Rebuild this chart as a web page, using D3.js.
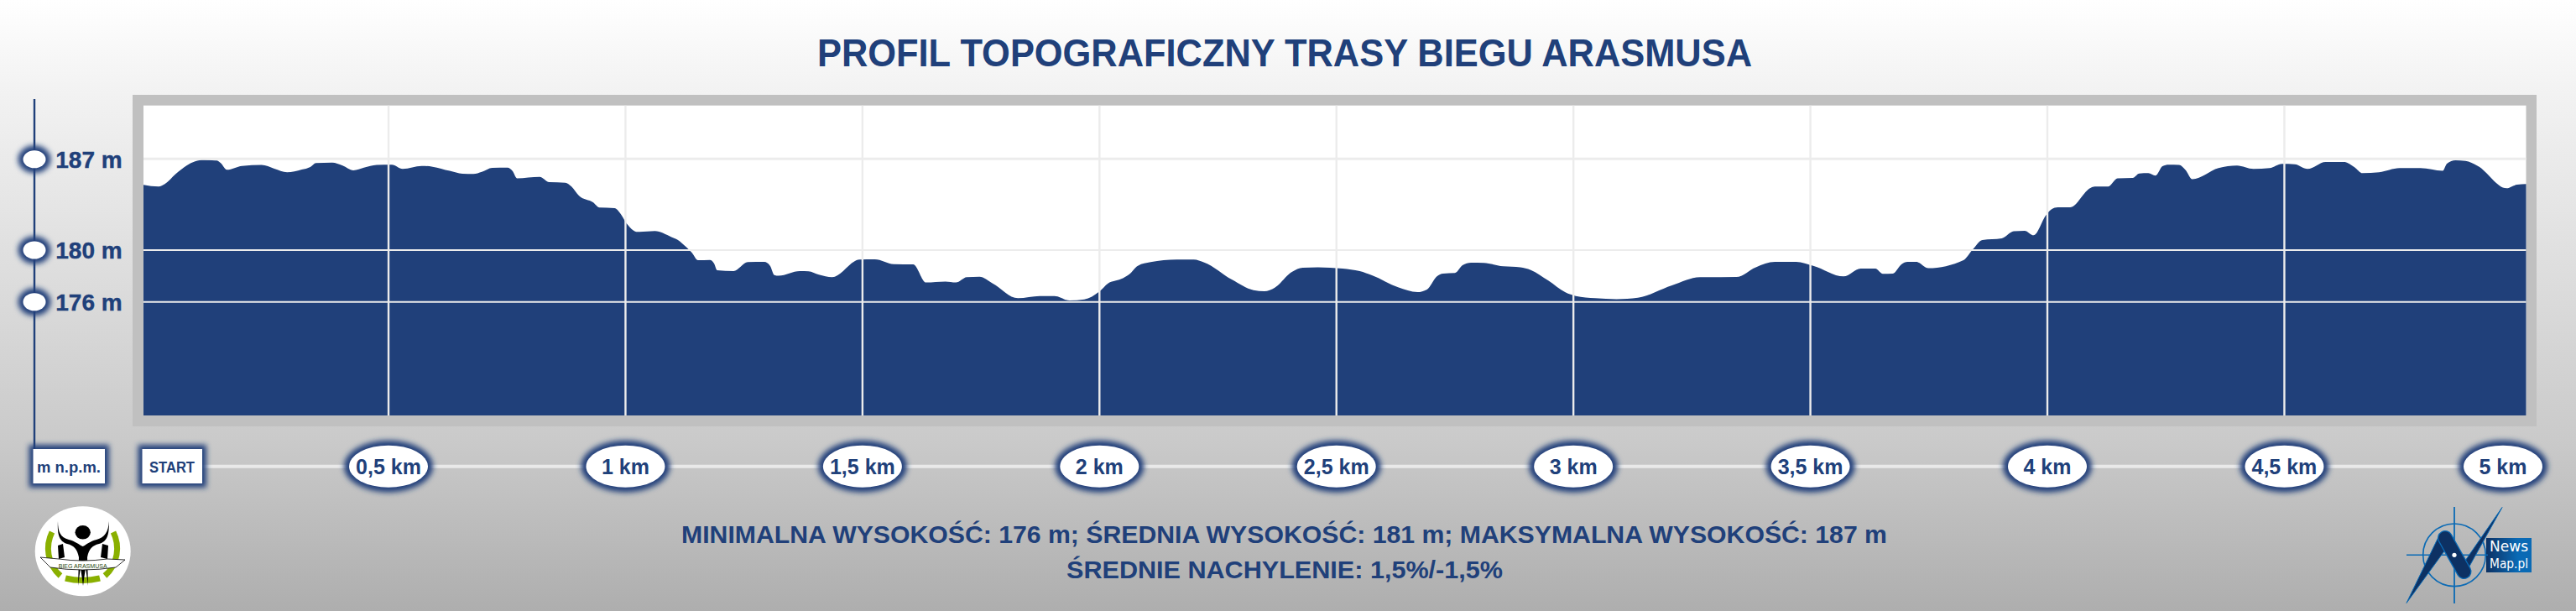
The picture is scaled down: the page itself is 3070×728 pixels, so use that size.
<!DOCTYPE html>
<html>
<head>
<meta charset="utf-8">
<title>Profil topograficzny</title>
<script src="https://cdn.jsdelivr.net/npm/d3@7"></script>
<style>
    html, body { margin: 0; padding: 0; background: #fff; }
    svg { display: block; }
    text { font-family: "Liberation Sans", Arial, sans-serif; font-weight: bold; fill: #20407a; }
</style>
</head>
<body>
<svg id="chart" width="3070" height="728"></svg>
<script>
const titleText = "PROFIL TOPOGRAFICZNY TRASY BIEGU ARASMUSA";
const summaryLines = [
    "MINIMALNA WYSOKOŚĆ: 176 m; ŚREDNIA WYSOKOŚĆ: 181 m; MAKSYMALNA WYSOKOŚĆ: 187 m",
    "ŚREDNIE NACHYLENIE: 1,5%/-1,5%"
];

const kmTicks = [0.5, 1, 1.5, 2, 2.5, 3, 3.5, 4, 4.5, 5];
const kmLabels = ["0,5 km", "1 km", "1,5 km", "2 km", "2,5 km", "3 km", "3,5 km", "4 km", "4,5 km", "5 km"];
const elevationTicks = [187, 180, 176];

const distanceKm = [
    -0.017, 0.015, 0.028, 0.051, 0.074, 0.092, 0.110, 0.137, 0.146, 0.159,
    0.191, 0.232, 0.259, 0.286, 0.317, 0.335, 0.347, 0.381, 0.403, 0.426,
    0.448, 0.475, 0.507, 0.530, 0.570, 0.593, 0.629, 0.656, 0.679, 0.697,
    0.719, 0.751, 0.762, 0.771, 0.819, 0.839, 0.873, 0.886, 0.902, 0.932,
    0.945, 0.977, 0.990, 0.999, 1.026, 1.062, 1.097,
    1.110, 1.128, 1.140, 1.153, 1.178, 1.187, 1.193, 1.228, 1.258, 1.293,
    1.305, 1.314, 1.323, 1.368, 1.386, 1.408, 1.436, 1.494, 1.526, 1.566,
    1.607, 1.634, 1.675, 1.697, 1.720, 1.747, 1.774, 1.828, 1.874, 1.905,
    1.937, 1.968, 2.000, 2.018, 2.045, 2.063, 2.081, 2.108, 2.163, 2.199,
    2.221, 2.280, 2.325, 2.348, 2.370, 2.406, 2.429, 2.461, 2.513,
    2.549, 2.576, 2.630, 2.671, 2.691, 2.712, 2.725, 2.750, 2.766, 2.784,
    2.811, 2.852, 2.888, 2.910, 2.947, 2.983, 3.005, 3.046, 3.091, 3.136,
    3.208, 3.267, 3.344, 3.385, 3.425, 3.470, 3.506, 3.570, 3.606, 3.637,
    3.653, 3.674, 3.692, 3.705, 3.723, 3.749, 3.823, 3.841, 3.863, 3.904, 3.929,
    3.952, 3.971, 3.997, 4.009, 4.022, 4.048, 4.091, 4.100, 4.128, 4.148,
    4.180, 4.194, 4.213, 4.228, 4.243, 4.256, 4.278, 4.291, 4.306, 4.361,
    4.400, 4.435, 4.469, 4.495, 4.522, 4.549, 4.587, 4.626, 4.648, 4.665,
    4.700, 4.743, 4.787, 4.834, 4.843, 4.861, 4.882, 4.908, 4.969, 4.991, 5.010
];

const elevationM = [
    185.03, 184.90, 185.09, 185.87, 186.52, 186.84, 186.95, 186.90, 186.71, 186.19,
    186.49, 186.56, 186.28, 186.00, 186.21, 186.41, 186.71, 186.75, 186.52, 186.15,
    186.36, 186.56, 186.58, 186.26, 186.49, 186.43, 186.11, 185.89, 185.87, 186.04,
    186.34, 186.36, 186.08, 185.54, 185.65, 185.24, 185.20, 184.90, 184.19, 183.67,
    183.28, 183.24, 182.78, 182.24, 181.40, 181.47, 181.01,
    180.80, 180.24, 179.81, 179.22, 179.24, 178.96, 178.45, 178.38, 179.07, 179.09,
    178.79, 178.08, 178.02, 178.38, 178.36, 178.10, 177.91, 179.27, 179.29, 178.92,
    178.90, 177.50, 177.58, 177.50, 177.91, 177.95, 177.45, 176.29, 176.46, 176.46,
    176.12, 176.20, 176.81, 177.43, 177.76, 178.14, 178.79, 179.07, 179.27, 179.27,
    179.05, 177.71, 176.91, 176.83, 177.11, 178.32, 178.64, 178.68, 178.58,
    178.38, 178.04, 177.13, 176.76, 176.96, 177.97, 178.19, 178.23, 178.83, 179.03,
    179.01, 178.75, 178.68, 178.47, 177.65, 176.74, 176.46, 176.29, 176.22, 176.33,
    177.28, 177.91, 177.93, 178.68, 179.09, 179.09, 178.79, 177.97, 178.58, 178.58,
    178.17, 178.19, 178.90, 179.09, 179.09, 178.60, 179.22, 179.98, 180.78, 180.91, 181.45,
    181.49, 181.14, 182.68, 183.15, 183.30, 183.30, 184.79, 184.90, 184.90, 185.54,
    185.57, 185.91, 185.93, 185.74, 186.47, 186.58, 186.56, 186.19, 185.46, 186.32,
    186.52, 186.26, 186.32, 186.65, 186.62, 186.26, 186.80, 186.80, 186.39, 185.93,
    186.00, 186.32, 186.32, 186.11, 186.67, 186.93, 186.88, 186.49, 184.77, 185.05, 185.09
];

const navy = "#20407a";
const plot = { left: 171, right: 3010.5, top: 125.7, bottom: 495 };

const svg = d3.select("#chart");
const defs = svg.append("defs");

const bg = defs.append("linearGradient").attr("id", "bg")
    .attr("x1", 0).attr("y1", 0).attr("x2", 0).attr("y2", 1);
bg.append("stop").attr("offset", 0).attr("stop-color", "#ffffff");
bg.append("stop").attr("offset", 0.14).attr("stop-color", "#f3f3f3");
bg.append("stop").attr("offset", 0.72).attr("stop-color", "#cacaca");
bg.append("stop").attr("offset", 1).attr("stop-color", "#aeaeae");

const nmBox = defs.append("linearGradient").attr("id", "nmBox");
nmBox.append("stop").attr("offset", 0).attr("stop-color", "#0d3163");
nmBox.append("stop").attr("offset", 0.7).attr("stop-color", "#0a6ab5");

defs.append("filter").attr("id", "glow")
    .attr("x", "-40%").attr("y", "-50%").attr("width", "180%").attr("height", "200%")
    .append("feGaussianBlur").attr("stdDeviation", 3);

svg.append("rect").attr("width", 3070).attr("height", 728).attr("fill", "url(#bg)");

svg.append("text")
    .attr("x", 1531).attr("y", 79)
    .attr("text-anchor", "middle")
    .attr("textLength", 1114).attr("lengthAdjust", "spacingAndGlyphs")
    .style("font-size", "47px")
    .text(titleText);

// frame and plot
svg.append("rect").attr("x", 158).attr("y", 113).attr("width", 2865).attr("height", 395).attr("fill", "#c0c0c0");
svg.append("rect")
    .attr("x", plot.left).attr("y", plot.top)
    .attr("width", plot.right - plot.left).attr("height", plot.bottom - plot.top)
    .attr("fill", "#fff");

const x = d3.scaleLinear().domain([-0.017, 5.01]).range([plot.left, plot.right]);
const y = d3.scaleLinear().domain([167.25, 191.15]).range([plot.bottom, plot.top]);

const profile = d3.area()
    .x(function(d, i) { return x(distanceKm[i]); })
    .y0(plot.bottom)
    .y1(function(d) { return y(d); })
    .curve(d3.curveMonotoneX);

svg.append("path").datum(elevationM).attr("d", profile).attr("fill", navy);

// grid goes over the area
svg.append("g").selectAll("line")
    .data(kmTicks.filter(function(d) { return d < 5; }))
    .enter().append("line")
    .attr("x1", function(d) { return x(d); })
    .attr("x2", function(d) { return x(d); })
    .attr("y1", plot.top).attr("y2", plot.bottom)
    .attr("stroke", "#ececec").attr("stroke-width", 2.4);

svg.append("g").selectAll("line")
    .data(elevationTicks)
    .enter().append("line")
    .attr("x1", plot.left).attr("x2", plot.right)
    .attr("y1", function(d) { return y(d) - (d === 187 ? 0.5 : 0); })
    .attr("y2", function(d) { return y(d) - (d === 187 ? 0.5 : 0); })
    .attr("stroke", "#ececec")
    .attr("stroke-width", function(d) { return d === 187 ? 3 : 2; });

// left elevation scale
const axisX = 41;
svg.append("line")
    .attr("x1", axisX).attr("x2", axisX).attr("y1", 118).attr("y2", 540)
    .attr("stroke", navy).attr("stroke-width", 2.4);

function pill(parent, cx, cy, rx, ry) {
    parent.append("ellipse").attr("cx", cx).attr("cy", cy).attr("rx", rx + 6).attr("ry", ry + 6)
        .attr("fill", navy).attr("filter", "url(#glow)");
    parent.append("ellipse").attr("cx", cx).attr("cy", cy).attr("rx", rx).attr("ry", ry)
        .attr("fill", "#fff");
}

function box(parent, bx, by, w, h) {
    parent.append("rect").attr("x", bx - 5).attr("y", by - 5).attr("width", w + 10).attr("height", h + 10)
        .attr("fill", navy).attr("filter", "url(#glow)");
    parent.append("rect").attr("x", bx).attr("y", by).attr("width", w).attr("height", h)
        .attr("fill", "#fff");
}

const elevMarks = svg.append("g");
elevationTicks.forEach(function(d) {
    pill(elevMarks, axisX, y(d), 13.5, 10.5);
    elevMarks.append("text")
        .attr("x", 106).attr("y", y(d) + 10)
        .attr("text-anchor", "middle")
        .attr("stroke", navy).attr("stroke-width", 0.4)
        .style("font-size", "28px")
        .text(d + " m");
});

// distance row
const rowY = 555.7;
svg.append("line")
    .attr("x1", 241).attr("x2", 2983).attr("y1", rowY).attr("y2", rowY)
    .attr("stroke", "#e9e9e9").attr("stroke-width", 4);

box(svg, 39.5, 535, 85.5, 41);
svg.append("text").attr("x", 82).attr("y", 563)
    .attr("text-anchor", "middle")
    .attr("textLength", 76).attr("lengthAdjust", "spacingAndGlyphs")
    .style("font-size", "19px").text("m n.p.m.");

box(svg, 169.5, 535, 71.5, 41);
svg.append("text").attr("x", 205).attr("y", 562.5)
    .attr("text-anchor", "middle")
    .attr("textLength", 54).attr("lengthAdjust", "spacingAndGlyphs")
    .style("font-size", "19px").text("START");

const kmMarks = svg.append("g");
kmTicks.forEach(function(d, i) {
    const cx = Math.min(x(d), plot.right - 27.5);
    pill(kmMarks, cx, rowY, 47, 25);
    kmMarks.append("text")
        .attr("x", cx).attr("y", rowY + 9)
        .attr("text-anchor", "middle")
        .style("font-size", "25px")
        .text(kmLabels[i]);
});

// summary
svg.append("text")
    .attr("x", 1530.5).attr("y", 647)
    .attr("text-anchor", "middle")
    .attr("textLength", 1437).attr("lengthAdjust", "spacingAndGlyphs")
    .style("font-size", "30px")
    .text(summaryLines[0]);
svg.append("text")
    .attr("x", 1531).attr("y", 689)
    .attr("text-anchor", "middle")
    .attr("textLength", 520).attr("lengthAdjust", "spacingAndGlyphs")
    .style("font-size", "30px")
    .text(summaryLines[1]);

// race logo, bottom left
const race = svg.append("g");
race.append("ellipse").attr("cx", 98.7).attr("cy", 656.7).attr("rx", 57).attr("ry", 53.5).attr("fill", "#fff");
race.append("path")
    .attr("d", "M62,634 C54,650 56,672 72,686 M135,634 C143,650 141,672 125,686 M78,689 Q98,694 119,689")
    .attr("fill", "none").attr("stroke", "#8ab000").attr("stroke-width", 7);
race.append("ellipse").attr("cx", 98.7).attr("cy", 634.3).attr("rx", 9.2).attr("ry", 8.3).attr("fill", "#000");
race.append("path")
    .attr("d", "M69,621 C69,634 72,640 82,643 C90,645 94,649 98.7,651 C103,649 107,645 115,643 C125,640 129,634 130,621 C130,638 128,645 118,648 C110,650 106,654 104,664 L105,698 L102,676 L99,698 L96,676 L93,698 L94,664 C92,654 88,650 80,648 C71,645 68,638 69,621 Z")
    .attr("fill", "#000");
race.append("path")
    .attr("d", "M69,650 L75,648 L77,664 L70,666 Z M122,648 L129,650 L128,666 L120,664 Z")
    .attr("fill", "#000");
race.append("path")
    .attr("d", "M48,664 L70,666 Q98,670 128,666 L149,667 L138,676 Q98,682 60,676 Z")
    .attr("fill", "#fff").attr("stroke", "#000").attr("stroke-width", 0.8);
race.append("text")
    .attr("x", 98.7).attr("y", 677)
    .attr("text-anchor", "middle")
    .attr("textLength", 58).attr("lengthAdjust", "spacingAndGlyphs")
    .style("font-size", "8px").style("font-weight", "normal").style("fill", "#2a4a10")
    .text("BIEG ARASMUSA");

// newsmap logo, bottom right
const nm = svg.append("g");
const nmBlue = "#0a6ab5";
nm.append("rect").attr("x", 2963).attr("y", 641).attr("width", 54).attr("height", 41).attr("fill", "url(#nmBox)");
nm.append("circle").attr("cx", 2925).attr("cy", 661.3).attr("r", 37.3)
    .attr("fill", "none").attr("stroke", nmBlue).attr("stroke-width", 1.6);
nm.append("line").attr("x1", 2925).attr("x2", 2925).attr("y1", 604).attr("y2", 719)
    .attr("stroke", nmBlue).attr("stroke-width", 1.8);
nm.append("line").attr("x1", 2868).attr("x2", 2965).attr("y1", 661.3).attr("y2", 661.3)
    .attr("stroke", nmBlue).attr("stroke-width", 1.4);
nm.append("path")
    .attr("d", "M2868,718.5 L2906,640 L2915,654 Z M2982,604.5 L2940,680 L2938,668 Z")
    .attr("fill", "#0d3163").attr("stroke", nmBlue).attr("stroke-width", 1);
nm.append("line").attr("x1", 2914).attr("y1", 641).attr("x2", 2936.5).attr("y2", 681)
    .attr("stroke", nmBlue).attr("stroke-width", 18).attr("stroke-linecap", "round");
nm.append("line").attr("x1", 2914).attr("y1", 641).attr("x2", 2936.5).attr("y2", 681)
    .attr("stroke", "#0d3163").attr("stroke-width", 15.5).attr("stroke-linecap", "round");
nm.append("circle").attr("cx", 2925).attr("cy", 661.3).attr("r", 2.6).attr("fill", "#fff");
nm.append("text").attr("x", 2967).attr("y", 657)
    .attr("textLength", 46).attr("lengthAdjust", "spacingAndGlyphs")
    .style("font-family", "'DejaVu Sans'").style("font-weight", "normal").style("font-size", "17px").style("fill", "#fff")
    .text("News");
nm.append("text").attr("x", 2967).attr("y", 677)
    .attr("textLength", 46).attr("lengthAdjust", "spacingAndGlyphs")
    .style("font-family", "'DejaVu Sans'").style("font-weight", "normal").style("font-size", "15px").style("fill", "#fff")
    .text("Map.pl");
</script>
</body>
</html>
